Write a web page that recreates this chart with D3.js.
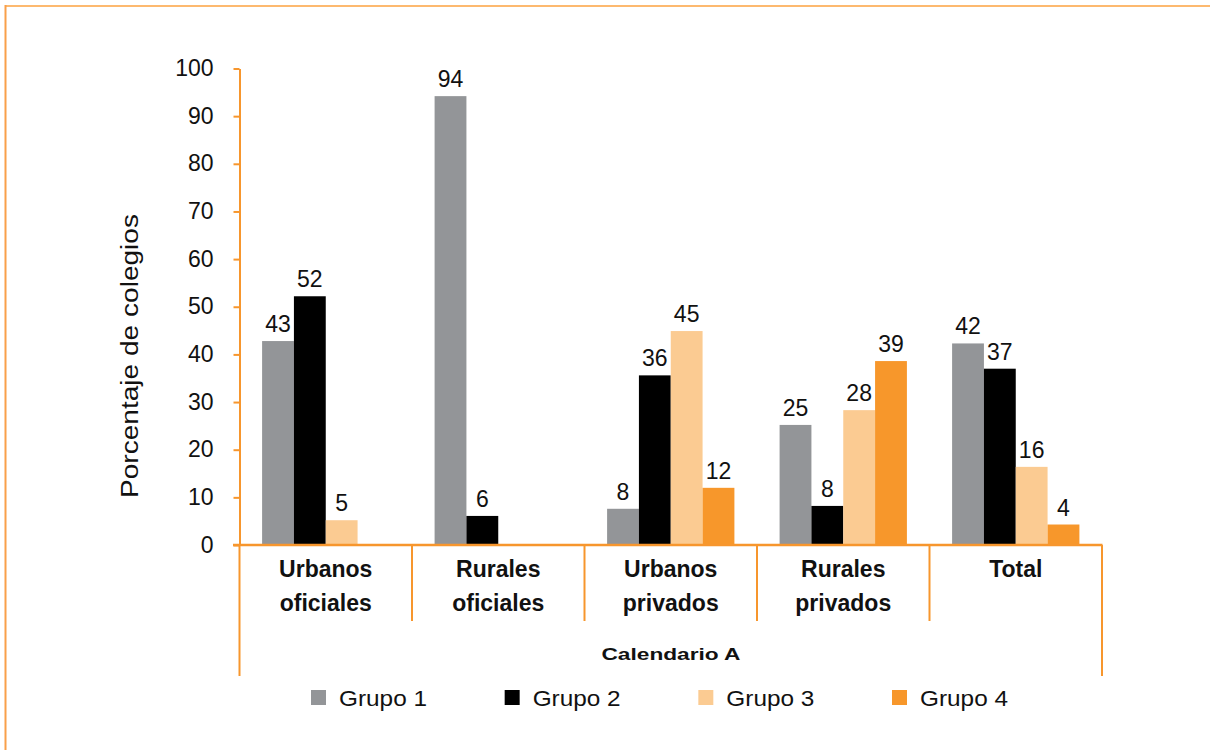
<!DOCTYPE html>
<html>
<head>
<meta charset="utf-8">
<script src="https://cdn.jsdelivr.net/npm/d3@7"></script>
<style>
  html, body { margin: 0; padding: 0; background: #fff; }
  svg { display: block; font-family: "Liberation Sans", Arial, Helvetica, sans-serif; }
</style>
</head>
<body>
<svg id="chart" width="1210" height="750"></svg>
<script>
// ---- data ----
const categories = [["Urbanos", "oficiales"], ["Rurales", "oficiales"], ["Urbanos", "privados"], ["Rurales", "privados"], ["Total"]];
const groups = ["Grupo 1", "Grupo 2", "Grupo 3", "Grupo 4"];
const grupo1 = [42.8, 94.2, 7.6, 25.2, 42.3];
const grupo2 = [52.2, 6.1, 35.6, 8.2, 37.0];
const grupo3 = [5.2, null, 44.9, 28.3, 16.4];
const grupo4 = [null, null, 12.0, 38.6, 4.3];
const yTicks = [0, 10, 20, 30, 40, 50, 60, 70, 80, 90, 100];
const axisTitle = "Porcentaje de colegios";
const groupTitle = "Calendario A";
const colors = ["#939598", "#000000", "#fbcb92", "#f7972b"];
const axisColor = "#f7962d";

const seriesValues = [grupo1, grupo2, grupo3, grupo4];
const catKeys = categories.map(c => c.join(" "));

const svg = d3.select("#chart");

// frame lines
svg.append("line").attr("x1", 5).attr("x2", 1210).attr("y1", 6).attr("y2", 6)
  .attr("stroke", "#fdb96f").attr("stroke-width", 2);
svg.append("line").attr("x1", 5.5).attr("x2", 5.5).attr("y1", 5).attr("y2", 750)
  .attr("stroke", "#f9a04a").attr("stroke-width", 2);

const x0 = d3.scaleBand().domain(catKeys).range([239.5, 1102]).paddingInner(0).paddingOuter(0);
const x1 = d3.scaleBand().domain(groups).range([0, x0.bandwidth()]).paddingInner(0).paddingOuter(0.71);
const y = d3.scaleLinear().domain([0, 100]).range([545, 68.5]);

// bars
const data = [];
catKeys.forEach((c, i) => {
  groups.forEach((g, j) => {
    const v = seriesValues[j][i];
    if (v !== null && v !== undefined) data.push({ c, g, v, color: colors[j] });
  });
});

svg.append("g").selectAll("rect").data(data).join("rect")
  .attr("x", d => x0(d.c) + x1(d.g))
  .attr("width", x1.bandwidth())
  .attr("y", d => y(d.v))
  .attr("height", d => y(0) - y(d.v))
  .attr("fill", d => d.color);

svg.append("g").selectAll("text").data(data).join("text")
  .attr("x", d => x0(d.c) + x1(d.g) + x1.bandwidth() / 2)
  .attr("y", d => y(d.v) - 9)
  .attr("text-anchor", "middle")
  .attr("font-size", 23)
  .attr("fill", "#111")
  .text(d => Math.round(d.v));

// y axis
const yAxis = d3.axisLeft(y).tickValues(yTicks).tickSize(6).tickPadding(20).tickSizeOuter(0);
const gy = svg.append("g").attr("transform", "translate(239.5,0)").call(yAxis);
gy.select(".domain").attr("stroke", axisColor).attr("stroke-width", 2);
gy.selectAll(".tick line").attr("stroke", axisColor).attr("stroke-width", 2);
gy.selectAll(".tick text").attr("font-size", 23).attr("fill", "#111")
  .attr("font-family", "'Liberation Sans', Arial, sans-serif").attr("dy", "0.31em");

// x axis line
svg.append("line").attr("x1", 233).attr("x2", 1102.5).attr("y1", y(0)).attr("y2", y(0))
  .attr("stroke", axisColor).attr("stroke-width", 2.5);

// category dividers
const bounds = catKeys.map(c => x0(c)).concat([x0(catKeys[catKeys.length - 1]) + x0.bandwidth()]);
svg.append("g").selectAll("line").data(bounds).join("line")
  .attr("x1", d => d).attr("x2", d => d)
  .attr("y1", y(0))
  .attr("y2", (d, i) => (i === 0 || i === bounds.length - 1) ? 676 : 621)
  .attr("stroke", axisColor).attr("stroke-width", 2);

// category labels
const catG = svg.append("g");
categories.forEach((lines, i) => {
  const t = catG.append("text")
    .attr("text-anchor", "middle")
    .attr("font-size", 23)
    .attr("font-weight", "bold")
    .attr("fill", "#111");
  lines.forEach((ln, k) => {
    t.append("tspan").attr("x", x0(catKeys[i]) + x0.bandwidth() / 2)
      .attr("y", 577 + k * 34).text(ln);
  });
});

// group title
svg.append("text").attr("x", 671).attr("y", 659.5).attr("text-anchor", "middle")
  .attr("font-size", 17).attr("font-weight", "bold").attr("fill", "#111")
  .attr("textLength", 139).attr("lengthAdjust", "spacingAndGlyphs")
  .text(groupTitle);

// y axis title
svg.append("text").attr("transform", "translate(138,356) rotate(-90)")
  .attr("text-anchor", "middle").attr("font-size", 23).attr("fill", "#111")
  .attr("textLength", 284).attr("lengthAdjust", "spacingAndGlyphs")
  .text(axisTitle);

// legend
const legX = d3.scalePoint().domain(groups).range([311, 892]);
const leg = svg.append("g").selectAll("g").data(groups).join("g")
  .attr("transform", d => `translate(${legX(d)},0)`);
leg.append("rect").attr("x", 0).attr("y", 690).attr("width", 15).attr("height", 15)
  .attr("fill", (d, i) => colors[i]);
leg.append("text").attr("x", 28).attr("y", 706).attr("font-size", 22).attr("fill", "#111")
  .attr("textLength", 88).attr("lengthAdjust", "spacingAndGlyphs")
  .text(d => d);
</script>
</body>
</html>
